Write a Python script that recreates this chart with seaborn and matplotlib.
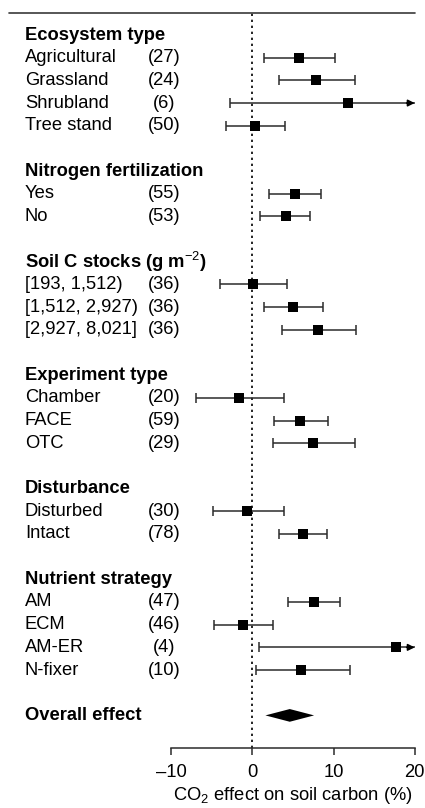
import numpy as np
import pandas as pd
import matplotlib
matplotlib.use("Agg")
import matplotlib.pyplot as plt
import matplotlib.transforms as mtransforms
from matplotlib.lines import Line2D
import seaborn as sns

# ---- data -------------------------------------------------------------
groups = [
    "Ecosystem type",
    "Nitrogen fertilization",
    "Soil C stocks (g m$^{\u2212 2}$)",
    "Experiment type",
    "Disturbance",
    "Nutrient strategy",
]
group_members = [
    ["Agricultural", "Grassland", "Shrubland", "Tree stand"],
    ["Yes", "No"],
    ["[193, 1,512)", "[1,512, 2,927)", "[2,927, 8,021]"],
    ["Chamber", "FACE", "OTC"],
    ["Disturbed", "Intact"],
    ["AM", "ECM", "AM-ER", "N-fixer"],
]
n_studies = [27, 24, 6, 50, 55, 53, 36, 36, 36, 20, 59, 29, 30, 78, 47, 46, 4, 10]
effect = [5.8, 7.8, 11.8, 0.3, 5.2, 4.1, 0.1, 5.0, 8.1, -1.7, 5.9, 7.5,
          -0.7, 6.2, 7.6, -1.2, 17.7, 6.0]
ci_low = [1.4, 3.3, -2.8, -3.3, 2.1, 0.9, -4.0, 1.4, 3.6, -7.0, 2.6, 2.5,
          -4.9, 3.3, 4.4, -4.7, 0.8, 0.4]
ci_high = [10.2, 12.6, 26.4, 4.0, 8.5, 7.1, 4.3, 8.7, 12.8, 3.9, 9.3, 12.6,
           3.9, 9.2, 10.8, 2.5, 34.5, 12.0]
overall_effect = 4.6
overall_low = 1.6
overall_high = 7.6
x_ticks = [-10, 0, 10, 20]
x_limits = (-10, 20)

# ---- layout of rows ---------------------------------------------------
rows = []
header_rows = []
pos = 0
for g, members in zip(groups, group_members):
    header_rows.append((pos, g))
    pos += 1
    for m in members:
        rows.append((pos, m))
        pos += 1
    pos += 1
overall_row = pos

df = pd.DataFrame({
    "row": [r for r, _ in rows],
    "label": [m for _, m in rows],
    "n": n_studies,
    "effect": effect,
    "low": ci_low,
    "high": ci_high,
})

# ---- figure -----------------------------------------------------------
sns.set_theme(style="white")
plt.rcParams["font.family"] = ["Liberation Sans", "DejaVu Sans"]
plt.rcParams["mathtext.fontset"] = "custom"
plt.rcParams["mathtext.rm"] = "Liberation Sans"
plt.rcParams["mathtext.it"] = "Liberation Sans:italic"
plt.rcParams["mathtext.bf"] = "Liberation Sans:bold"
plt.rcParams["text.color"] = "black"
plt.rcParams["axes.labelcolor"] = "black"
plt.rcParams["xtick.color"] = "black"

W, H = 425, 808
fig = plt.figure(figsize=(W / 100, H / 100), dpi=100)
ax_left, ax_right = 171.3 / W, 414.7 / W
ax_top_px, ax_bot_px = 13, 748.3
ax = fig.add_axes([ax_left, 1 - ax_bot_px / H, ax_right - ax_left,
                   (ax_bot_px - ax_top_px) / H])

row_px = 22.68
first_px = 35
ax.set_xlim(*x_limits)
ax.set_ylim((ax_bot_px - first_px) / row_px, (ax_top_px - first_px) / row_px)

fs = 13.2
ink = "#2b2b2b"

# reference line at zero
ax.axvline(0, color="black", lw=1.2, ls=(0, (1.4, 2.2)), zorder=1)

# confidence intervals
xmax = x_limits[1]
for _, r in df.iterrows():
    hi = min(r["high"], xmax)
    ax.hlines(r["row"], r["low"], hi, color=ink, lw=1.1, zorder=2)
    ax.plot([r["low"]], [r["row"]], marker="|", ms=6.5, mew=1.1, color=ink, zorder=2)
    if r["high"] <= xmax:
        ax.plot([r["high"]], [r["row"]], marker="|", ms=6.5, mew=1.1, color=ink, zorder=2)
    else:
        ax.annotate("", xy=(xmax, r["row"]), xytext=(xmax - 1.0, r["row"]),
                    arrowprops=dict(arrowstyle="-|>", color="black", lw=1.1,
                                    mutation_scale=10, shrinkA=0, shrinkB=0),
                    annotation_clip=False, zorder=3)

# point estimates
sns.scatterplot(data=df, x="effect", y="row", marker="s", s=45, color="black",
                edgecolor="black", linewidth=0, ax=ax, zorder=4, legend=False)

# overall effect diamond
half_h = 0.28
ax.fill([overall_low, overall_effect, overall_high, overall_effect],
        [overall_row, overall_row - half_h, overall_row, overall_row + half_h],
        color="black", lw=0, zorder=4)

# axis styling
for s in ["top", "left", "right"]:
    ax.spines[s].set_visible(False)
ax.spines["bottom"].set_color(ink)
ax.spines["bottom"].set_linewidth(1.1)
ax.set_yticks([])
ax.set_xticks(x_ticks)
ax.set_xticklabels(["\u201310", "0", "10", "20"])
ax.tick_params(axis="x", direction="out", length=5, width=1.1, color=ink,
               labelsize=fs, pad=6, bottom=True)
ax.set_xlabel("CO$_2$ effect on soil carbon (%)", fontsize=fs, labelpad=3)
ax.set_ylabel("")
ax.grid(False)
ax.patch.set_visible(False)

# row labels
tr = mtransforms.blended_transform_factory(fig.transFigure, ax.transData)
label_x = 25 / W
count_x = 164 / W
for r, g in header_rows:
    ax.text(label_x, r, g, transform=tr, fontsize=fs, fontweight="bold",
            ha="left", va="center", clip_on=False)
for _, r in df.iterrows():
    ax.text(label_x, r["row"], r["label"], transform=tr, fontsize=fs,
            ha="left", va="center", clip_on=False)
    ax.text(count_x, r["row"], f"({r['n']})", transform=tr, fontsize=fs,
            ha="center", va="center", clip_on=False)
ax.text(label_x, overall_row, "Overall effect", transform=tr, fontsize=fs,
        fontweight="bold", ha="left", va="center", clip_on=False)

# rule across the top
fig.add_artist(Line2D([8.5 / W, 415 / W], [1 - 13 / H, 1 - 13 / H],
                      transform=fig.transFigure, color="#3a3a3a", lw=1.2))

fig.savefig("out.png", dpi=100)
